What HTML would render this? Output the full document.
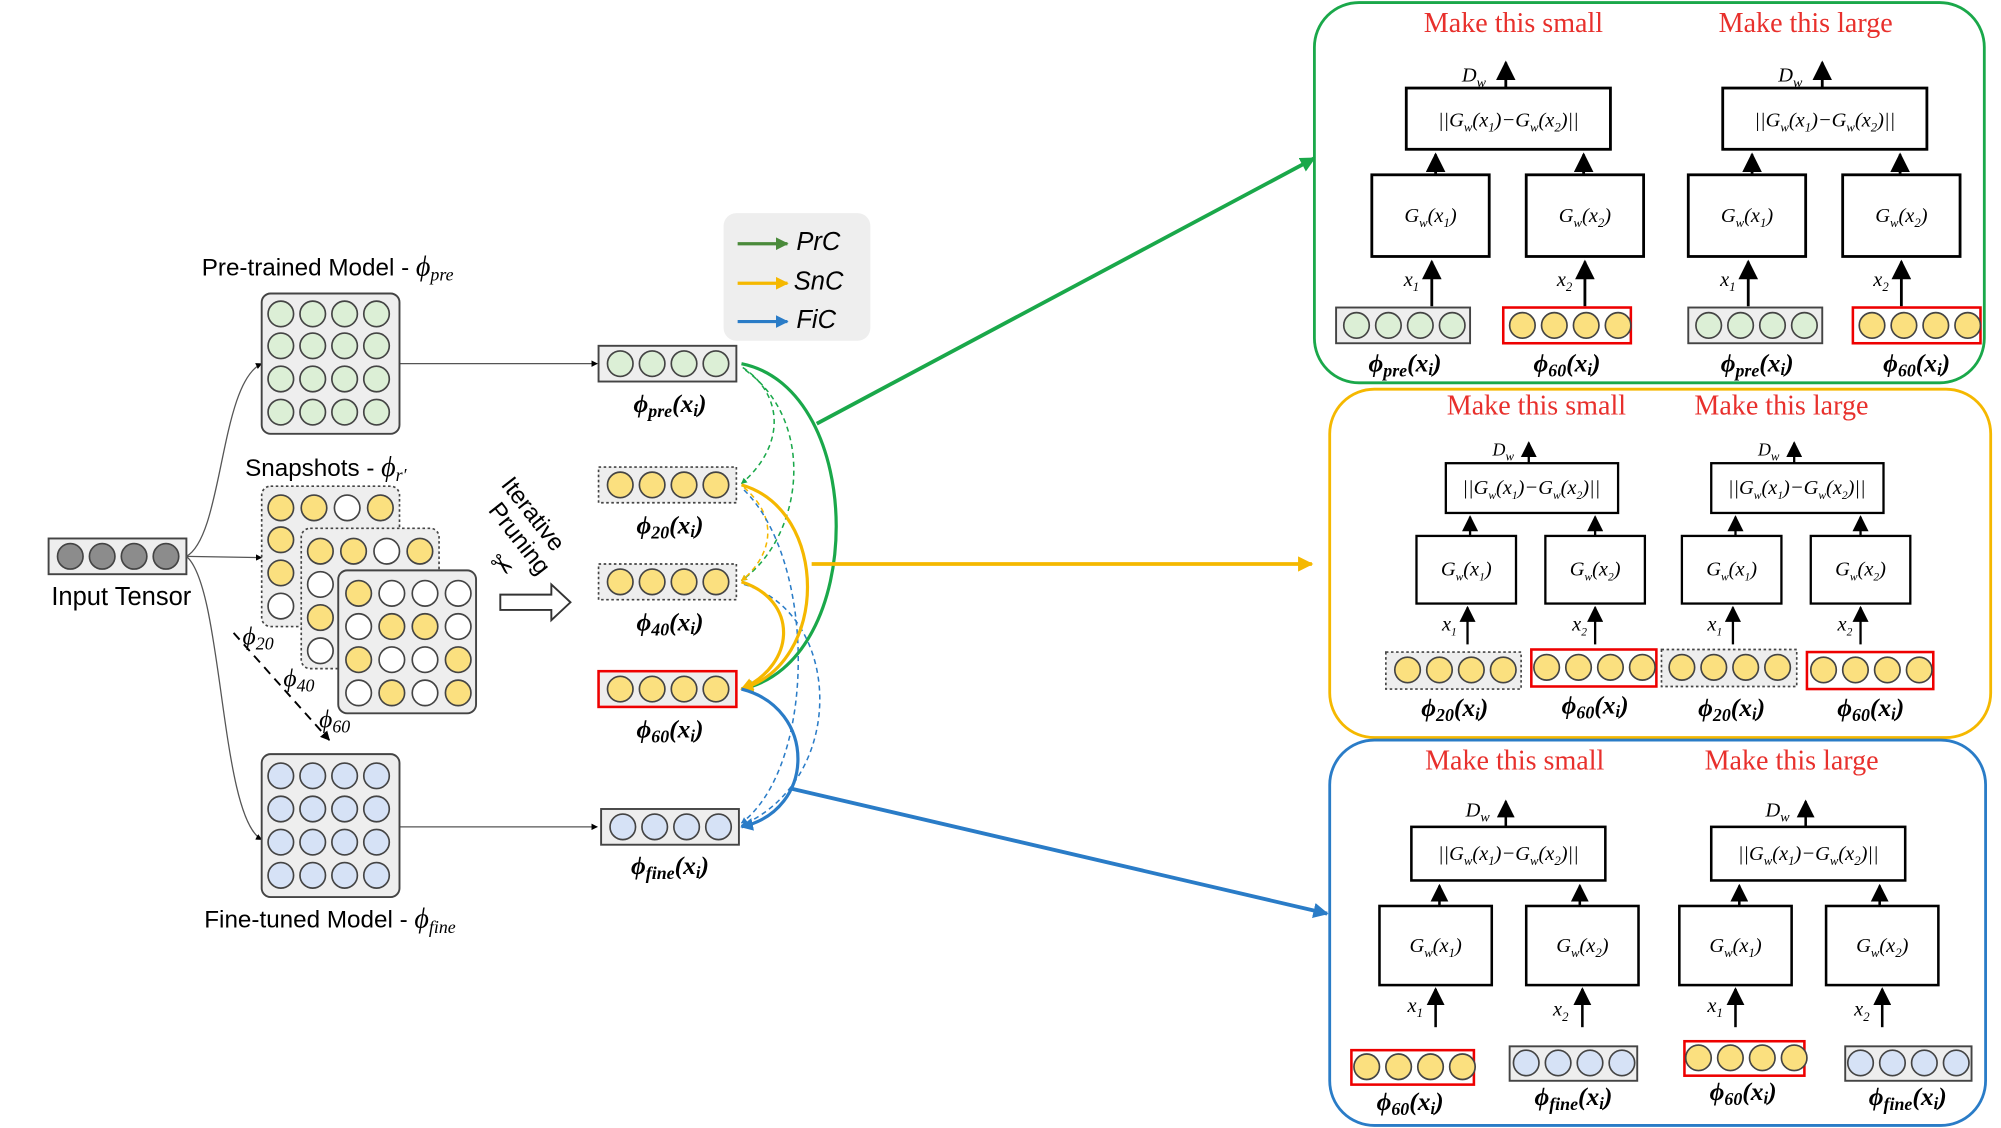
<!DOCTYPE html>
<html><head><meta charset="utf-8"><style>
html,body{margin:0;padding:0;background:#fff;width:2001px;height:1128px;overflow:hidden}
svg{display:block}
.sans{font-family:"Liberation Sans",sans-serif}
.ser{font-family:"Liberation Serif",serif}
.red{fill:#e8302c;font-family:"Liberation Serif",serif;font-size:22px}
.phi{font-family:"Liberation Serif",serif;font-size:20px;font-weight:bold;font-style:italic}
.g{font-family:"Liberation Serif",serif;font-style:italic;font-size:16px}
</style></head><body>
<svg width="2001" height="1128" viewBox="0 0 1568 884" xmlns="http://www.w3.org/2000/svg">
<defs>
<marker id="ak" viewBox="0 0 10 10" refX="9" refY="5" markerWidth="5" markerHeight="5" orient="auto"><path d="M0,0L10,5L0,10z" fill="#000"/></marker>
<marker id="ak2" viewBox="0 0 10 10" refX="9" refY="5" markerWidth="7" markerHeight="7" orient="auto"><path d="M0,0L10,5L0,10z" fill="#000"/></marker>
<marker id="ag" viewBox="0 0 10 10" refX="9" refY="5" markerWidth="4" markerHeight="4" orient="auto"><path d="M0,0L10,5L0,10z" fill="#1aa84a"/></marker>
<marker id="ay" viewBox="0 0 10 10" refX="9" refY="5" markerWidth="4" markerHeight="4" orient="auto"><path d="M0,0L10,5L0,10z" fill="#f5b800"/></marker>
<marker id="ab" viewBox="0 0 10 10" refX="9" refY="5" markerWidth="4" markerHeight="4" orient="auto"><path d="M0,0L10,5L0,10z" fill="#2a7cc7"/></marker>
<marker id="agl" viewBox="0 0 10 10" refX="9" refY="5" markerWidth="4" markerHeight="4" orient="auto"><path d="M0,0L10,5L0,10z" fill="#4a8a3a"/></marker>
<g id="cg" stroke="#444" stroke-width="1.3" fill="#dcefd6"><circle cx="13" cy="14" r="10"/><circle cx="38" cy="14" r="10"/><circle cx="63" cy="14" r="10"/><circle cx="88" cy="14" r="10"/></g>
<g id="cy" stroke="#444" stroke-width="1.3" fill="#fbe07f"><circle cx="13" cy="14" r="10"/><circle cx="38" cy="14" r="10"/><circle cx="63" cy="14" r="10"/><circle cx="88" cy="14" r="10"/></g>
<g id="cb" stroke="#444" stroke-width="1.3" fill="#d6e2f6"><circle cx="13" cy="14" r="10"/><circle cx="38" cy="14" r="10"/><circle cx="63" cy="14" r="10"/><circle cx="88" cy="14" r="10"/></g>
<g id="ck" stroke="#444" stroke-width="1.3" fill="#8c8c8c"><circle cx="13" cy="14" r="10"/><circle cx="38" cy="14" r="10"/><circle cx="63" cy="14" r="10"/><circle cx="88" cy="14" r="10"/></g>
<g id="unitA" fill="none" stroke="#000" stroke-width="2.2">
<rect x="0" y="0" width="160" height="48" fill="#fff"/>
<line x1="78" y1="0" x2="78" y2="-20" marker-end="url(#ak2)"/>
<rect x="-27" y="68" width="92" height="64" fill="#fff"/>
<rect x="94" y="68" width="92" height="64" fill="#fff"/>
<line x1="23" y1="68" x2="23" y2="52" marker-end="url(#ak2)"/>
<line x1="139" y1="68" x2="139" y2="52" marker-end="url(#ak2)"/>
<line x1="20" y1="171" x2="20" y2="136" marker-end="url(#ak2)"/>
<line x1="140" y1="171" x2="140" y2="136" marker-end="url(#ak2)"/>
</g>
<g id="unitB" fill="none" stroke="#000" stroke-width="1.8">
<rect x="0" y="0" width="135" height="39" fill="#fff"/>
<line x1="65" y1="0" x2="65" y2="-16" marker-end="url(#ak2)"/>
<rect x="-23" y="57" width="78" height="53" fill="#fff"/>
<rect x="78" y="57" width="78" height="53" fill="#fff"/>
<line x1="19" y1="57" x2="19" y2="42" marker-end="url(#ak2)"/>
<line x1="117" y1="57" x2="117" y2="42" marker-end="url(#ak2)"/>
<line x1="17" y1="142" x2="17" y2="113" marker-end="url(#ak2)"/>
<line x1="117" y1="142" x2="117" y2="113" marker-end="url(#ak2)"/>
</g>
<g id="unitC" fill="none" stroke="#000" stroke-width="2">
<rect x="0" y="0" width="152" height="42" fill="#fff"/>
<line x1="74" y1="0" x2="74" y2="-20" marker-end="url(#ak2)"/>
<rect x="-25" y="62" width="88" height="62" fill="#fff"/>
<rect x="90" y="62" width="88" height="62" fill="#fff"/>
<line x1="22" y1="62" x2="22" y2="46" marker-end="url(#ak2)"/>
<line x1="132" y1="62" x2="132" y2="46" marker-end="url(#ak2)"/>
<line x1="19" y1="157" x2="19" y2="127" marker-end="url(#ak2)"/>
<line x1="134" y1="157" x2="134" y2="127" marker-end="url(#ak2)"/>
</g>
</defs>

<rect x="38" y="422" width="108" height="28" fill="#eee" stroke="#444" stroke-width="1.5"/>
<use href="#ck" x="42" y="422"/>
<text x="95" y="474" class="sans" font-size="20" text-anchor="middle">Input Tensor</text>

<g fill="none" stroke="#555" stroke-width="1">
<path d="M146,436 C175,420 172,300 205,285" marker-end="url(#ak)"/>
<path d="M146,436 L205,437" marker-end="url(#ak)"/>
<path d="M146,436 C175,460 172,640 205,658" marker-end="url(#ak)"/>
<line x1="313" y1="285" x2="468" y2="285" marker-end="url(#ak)"/>
<line x1="313" y1="648" x2="468" y2="648" marker-end="url(#ak)"/>
</g>
<line x1="183" y1="496" x2="258" y2="580" stroke="#000" stroke-width="1.5" stroke-dasharray="7,5" marker-end="url(#ak)"/>

<text x="158" y="216" class="sans" font-size="19">Pre-trained Model - <tspan class="ser" font-style="italic" font-size="22">ϕ</tspan><tspan class="ser" font-style="italic" font-size="14" dy="4">pre</tspan></text>
<rect x="205" y="230" width="108" height="110" rx="7" fill="#eee" stroke="#444" stroke-width="1.5"/>
<use href="#cg" x="207" y="232"/><use href="#cg" x="207" y="257"/><use href="#cg" x="207" y="283"/><use href="#cg" x="207" y="309"/>

<text x="192" y="373" class="sans" font-size="19">Snapshots - <tspan class="ser" font-style="italic" font-size="22">ϕ</tspan><tspan class="ser" font-style="italic" font-size="14" dy="4">r′</tspan></text>
<g stroke="#444" stroke-width="1.3">
<rect x="205" y="381" width="108" height="110" rx="7" fill="#eee" stroke-dasharray="2,2"/>
<circle cx="220" cy="398" r="10" fill="#fbe07f"/><circle cx="246" cy="398" r="10" fill="#fbe07f"/><circle cx="272" cy="398" r="10" fill="#fff"/><circle cx="298" cy="398" r="10" fill="#fbe07f"/>
<circle cx="220" cy="423" r="10" fill="#fbe07f"/><circle cx="220" cy="449" r="10" fill="#fbe07f"/><circle cx="220" cy="475" r="10" fill="#fff"/>
<rect x="236" y="414" width="108" height="110" rx="7" fill="#eee" stroke-dasharray="2,2"/>
<circle cx="251" cy="432" r="10" fill="#fbe07f"/><circle cx="277" cy="432" r="10" fill="#fbe07f"/><circle cx="303" cy="432" r="10" fill="#fff"/><circle cx="329" cy="432" r="10" fill="#fbe07f"/>
<circle cx="251" cy="458" r="10" fill="#fff"/><circle cx="251" cy="484" r="10" fill="#fbe07f"/><circle cx="251" cy="510" r="10" fill="#fff"/>
<rect x="265" y="447" width="108" height="112" rx="7" fill="#eee" stroke-width="1.5"/>
<circle cx="281" cy="465" r="10" fill="#fbe07f"/><circle cx="307" cy="465" r="10" fill="#fff"/><circle cx="333" cy="465" r="10" fill="#fff"/><circle cx="359" cy="465" r="10" fill="#fff"/>
<circle cx="281" cy="491" r="10" fill="#fff"/><circle cx="307" cy="491" r="10" fill="#fbe07f"/><circle cx="333" cy="491" r="10" fill="#fbe07f"/><circle cx="359" cy="491" r="10" fill="#fff"/>
<circle cx="281" cy="517" r="10" fill="#fbe07f"/><circle cx="307" cy="517" r="10" fill="#fff"/><circle cx="333" cy="517" r="10" fill="#fff"/><circle cx="359" cy="517" r="10" fill="#fbe07f"/>
<circle cx="281" cy="543" r="10" fill="#fff"/><circle cx="307" cy="543" r="10" fill="#fbe07f"/><circle cx="333" cy="543" r="10" fill="#fff"/><circle cx="359" cy="543" r="10" fill="#fbe07f"/>
</g>
<text x="190" y="505" class="ser" font-style="italic" font-size="20">ϕ<tspan font-size="14" dy="4">20</tspan></text>
<text x="222" y="538" class="ser" font-style="italic" font-size="20">ϕ<tspan font-size="14" dy="4">40</tspan></text>
<text x="250" y="570" class="ser" font-style="italic" font-size="20">ϕ<tspan font-size="14" dy="4">60</tspan></text>

<rect x="205" y="591" width="108" height="112" rx="7" fill="#eee" stroke="#444" stroke-width="1.5"/>
<use href="#cb" x="207" y="594"/><use href="#cb" x="207" y="620"/><use href="#cb" x="207" y="646"/><use href="#cb" x="207" y="672"/>
<text x="160" y="727" class="sans" font-size="19">Fine-tuned Model - <tspan class="ser" font-style="italic" font-size="22">ϕ</tspan><tspan class="ser" font-style="italic" font-size="14" dy="4">fine</tspan></text>

<text transform="translate(392,380) rotate(52)" class="sans" font-size="19">Iterative</text>
<text transform="translate(382,400) rotate(52)" class="sans" font-size="19">Pruning</text>
<text x="383" y="452" font-size="22" transform="rotate(40 395 445)" font-family="DejaVu Sans">✂</text>
<path d="M392,466 L432,466 L432,458 L447,472 L432,486 L432,478 L392,478 Z" fill="#fff" stroke="#333" stroke-width="1.5"/>

<rect x="469" y="271" width="108" height="28" fill="#eee" stroke="#444" stroke-width="1.5"/><use href="#cg" x="473" y="271"/>
<rect x="469" y="366" width="108" height="28" fill="#eee" stroke="#444" stroke-width="1.3" stroke-dasharray="2,2"/><use href="#cy" x="473" y="366"/>
<rect x="469" y="442" width="108" height="28" fill="#eee" stroke="#444" stroke-width="1.3" stroke-dasharray="2,2"/><use href="#cy" x="473" y="442"/>
<rect x="469" y="526" width="108" height="28" fill="#eee" stroke="#e00" stroke-width="2"/><use href="#cy" x="473" y="526"/>
<rect x="471" y="634" width="108" height="28" fill="#eee" stroke="#444" stroke-width="1.5"/><use href="#cb" x="475" y="634"/>
<text x="525" y="323" class="phi" text-anchor="middle">ϕ<tspan font-size="14" dy="4">pre</tspan><tspan dy="-4">(x</tspan><tspan font-size="13" dy="3">i</tspan><tspan dy="-3">)</tspan></text>
<text x="525" y="418" class="phi" text-anchor="middle">ϕ<tspan font-size="14" dy="4">20</tspan><tspan dy="-4">(x</tspan><tspan font-size="13" dy="3">i</tspan><tspan dy="-3">)</tspan></text>
<text x="525" y="494" class="phi" text-anchor="middle">ϕ<tspan font-size="14" dy="4">40</tspan><tspan dy="-4">(x</tspan><tspan font-size="13" dy="3">i</tspan><tspan dy="-3">)</tspan></text>
<text x="525" y="578" class="phi" text-anchor="middle">ϕ<tspan font-size="14" dy="4">60</tspan><tspan dy="-4">(x</tspan><tspan font-size="13" dy="3">i</tspan><tspan dy="-3">)</tspan></text>
<text x="525" y="685" class="phi" text-anchor="middle">ϕ<tspan font-size="14" dy="4">fine</tspan><tspan dy="-4">(x</tspan><tspan font-size="13" dy="3">i</tspan><tspan dy="-3">)</tspan></text>

<rect x="567" y="167" width="115" height="100" rx="10" fill="#eee"/>
<line x1="578" y1="191" x2="617" y2="191" stroke="#4a8a3a" stroke-width="2.5" marker-end="url(#agl)"/>
<line x1="578" y1="222" x2="617" y2="222" stroke="#f5b800" stroke-width="2.5" marker-end="url(#ay)"/>
<line x1="578" y1="252" x2="617" y2="252" stroke="#2a7cc7" stroke-width="2.5" marker-end="url(#ab)"/>
<text x="624" y="196" class="sans" font-style="italic" font-size="20">PrC</text>
<text x="622" y="227" class="sans" font-style="italic" font-size="20">SnC</text>
<text x="624" y="257" class="sans" font-style="italic" font-size="20">FiC</text>

<g fill="none" stroke-width="1.2" stroke-dasharray="4,3">
<path d="M582,288 C615,310 615,350 581,379" stroke="#1aa84a" marker-end="url(#ag)"/>
<path d="M584,290 C640,330 630,420 581,455" stroke="#1aa84a" marker-end="url(#ag)"/>
<path d="M583,382 C615,410 600,440 581,455" stroke="#f5b800" marker-end="url(#ay)"/>
<path d="M583,384 C640,440 640,600 581,645" stroke="#2a7cc7" marker-end="url(#ab)"/>
<path d="M583,458 C660,480 665,610 581,647" stroke="#2a7cc7" marker-end="url(#ab)"/>
</g>
<g fill="none" stroke-width="2.5">
<path d="M581,285 C680,305 680,520 581,540" stroke="#1aa84a" marker-end="url(#ag)"/>
<path d="M581,380 C650,400 650,520 581,540" stroke="#f5b800" marker-end="url(#ay)"/>
<path d="M581,456 C625,470 625,520 581,540" stroke="#f5b800" marker-end="url(#ay)"/>
<path d="M581,540 C640,555 640,635 581,648" stroke="#2a7cc7" marker-end="url(#ab)"/>
<line x1="640" y1="332" x2="1030" y2="124" stroke="#1aa84a" stroke-width="3" marker-end="url(#ag)"/>
<line x1="636" y1="442" x2="1028" y2="442" stroke="#f5b800" stroke-width="3" marker-end="url(#ay)"/>
<line x1="620" y1="618" x2="1040" y2="716" stroke="#2a7cc7" stroke-width="3" marker-end="url(#ab)"/>
</g>

<rect x="1030" y="2" width="525" height="298" rx="35" fill="none" stroke="#1aa84a" stroke-width="2.2"/>
<text x="1186" y="25" class="red" text-anchor="middle">Make this small</text>
<text x="1415" y="25" class="red" text-anchor="middle">Make this large</text>
<use href="#unitA" x="1102" y="69"/><use href="#unitA" x="1350" y="69"/>
<rect x="1047" y="241" width="105" height="28" fill="#eee" stroke="#444" stroke-width="1.5"/><use href="#cg" x="1050" y="241"/>
<rect x="1178" y="241" width="100" height="28" fill="#fff" stroke="#e00" stroke-width="2"/><use href="#cy" x="1180" y="241"/>
<rect x="1323" y="241" width="105" height="28" fill="#eee" stroke="#444" stroke-width="1.5"/><use href="#cg" x="1326" y="241"/>
<rect x="1452" y="241" width="100" height="28" fill="#fff" stroke="#e00" stroke-width="2"/><use href="#cy" x="1454" y="241"/>
<g class="g">
<text x="1155" y="64" text-anchor="middle">D<tspan font-size="11" dy="4">w</tspan></text>
<text x="1403" y="64" text-anchor="middle">D<tspan font-size="11" dy="4">w</tspan></text>
<text x="1182" y="99" text-anchor="middle">||G<tspan font-size="10" dy="4">w</tspan><tspan dy="-4">(x</tspan><tspan font-size="10" dy="4">1</tspan><tspan dy="-4">)−G</tspan><tspan font-size="10" dy="4">w</tspan><tspan dy="-4">(x</tspan><tspan font-size="10" dy="4">2</tspan><tspan dy="-4">)||</tspan></text>
<text x="1430" y="99" text-anchor="middle">||G<tspan font-size="10" dy="4">w</tspan><tspan dy="-4">(x</tspan><tspan font-size="10" dy="4">1</tspan><tspan dy="-4">)−G</tspan><tspan font-size="10" dy="4">w</tspan><tspan dy="-4">(x</tspan><tspan font-size="10" dy="4">2</tspan><tspan dy="-4">)||</tspan></text>
<text x="1121" y="174" text-anchor="middle">G<tspan font-size="10" dy="4">w</tspan><tspan dy="-4">(x</tspan><tspan font-size="10" dy="4">1</tspan><tspan dy="-4">)</tspan></text>
<text x="1242" y="174" text-anchor="middle">G<tspan font-size="10" dy="4">w</tspan><tspan dy="-4">(x</tspan><tspan font-size="10" dy="4">2</tspan><tspan dy="-4">)</tspan></text>
<text x="1369" y="174" text-anchor="middle">G<tspan font-size="10" dy="4">w</tspan><tspan dy="-4">(x</tspan><tspan font-size="10" dy="4">1</tspan><tspan dy="-4">)</tspan></text>
<text x="1490" y="174" text-anchor="middle">G<tspan font-size="10" dy="4">w</tspan><tspan dy="-4">(x</tspan><tspan font-size="10" dy="4">2</tspan><tspan dy="-4">)</tspan></text>
<text x="1100" y="224">x<tspan font-size="10" dy="4">1</tspan></text>
<text x="1220" y="224">x<tspan font-size="10" dy="4">2</tspan></text>
<text x="1348" y="224">x<tspan font-size="10" dy="4">1</tspan></text>
<text x="1468" y="224">x<tspan font-size="10" dy="4">2</tspan></text>
</g>
<text x="1101" y="291" class="phi" text-anchor="middle">ϕ<tspan font-size="14" dy="4">pre</tspan><tspan dy="-4">(x</tspan><tspan font-size="13" dy="3">i</tspan><tspan dy="-3">)</tspan></text>
<text x="1228" y="291" class="phi" text-anchor="middle">ϕ<tspan font-size="14" dy="4">60</tspan><tspan dy="-4">(x</tspan><tspan font-size="13" dy="3">i</tspan><tspan dy="-3">)</tspan></text>
<text x="1377" y="291" class="phi" text-anchor="middle">ϕ<tspan font-size="14" dy="4">pre</tspan><tspan dy="-4">(x</tspan><tspan font-size="13" dy="3">i</tspan><tspan dy="-3">)</tspan></text>
<text x="1502" y="291" class="phi" text-anchor="middle">ϕ<tspan font-size="14" dy="4">60</tspan><tspan dy="-4">(x</tspan><tspan font-size="13" dy="3">i</tspan><tspan dy="-3">)</tspan></text>

<rect x="1042" y="305" width="518" height="273" rx="35" fill="none" stroke="#f5b800" stroke-width="2.2"/>
<text x="1204" y="325" class="red" text-anchor="middle" font-size="19">Make this small</text>
<text x="1396" y="325" class="red" text-anchor="middle" font-size="19">Make this large</text>
<use href="#unitB" x="1133" y="363"/><use href="#unitB" x="1341" y="363"/>
<rect x="1086" y="511" width="106" height="29" fill="#eee" stroke="#444" stroke-width="1.3" stroke-dasharray="2,2"/><use href="#cy" x="1090" y="511"/>
<rect x="1200" y="509" width="98" height="29" fill="#fff" stroke="#e00" stroke-width="2"/><use href="#cy" x="1199" y="509"/>
<rect x="1302" y="509" width="106" height="29" fill="#eee" stroke="#444" stroke-width="1.3" stroke-dasharray="2,2"/><use href="#cy" x="1305" y="509"/>
<rect x="1416" y="511" width="99" height="29" fill="#fff" stroke="#e00" stroke-width="2"/><use href="#cy" x="1416" y="511"/>
<g class="g" font-size="13">
<text x="1178" y="357" text-anchor="middle" font-size="14">D<tspan font-size="10" dy="4">w</tspan></text>
<text x="1386" y="357" text-anchor="middle" font-size="14">D<tspan font-size="10" dy="4">w</tspan></text>
<text x="1200" y="387" text-anchor="middle">||G<tspan font-size="9" dy="4">w</tspan><tspan dy="-4">(x</tspan><tspan font-size="9" dy="4">1</tspan><tspan dy="-4">)−G</tspan><tspan font-size="9" dy="4">w</tspan><tspan dy="-4">(x</tspan><tspan font-size="9" dy="4">2</tspan><tspan dy="-4">)||</tspan></text>
<text x="1408" y="387" text-anchor="middle">||G<tspan font-size="9" dy="4">w</tspan><tspan dy="-4">(x</tspan><tspan font-size="9" dy="4">1</tspan><tspan dy="-4">)−G</tspan><tspan font-size="9" dy="4">w</tspan><tspan dy="-4">(x</tspan><tspan font-size="9" dy="4">2</tspan><tspan dy="-4">)||</tspan></text>
<text x="1149" y="451" text-anchor="middle">G<tspan font-size="9" dy="4">w</tspan><tspan dy="-4">(x</tspan><tspan font-size="9" dy="4">1</tspan><tspan dy="-4">)</tspan></text>
<text x="1250" y="451" text-anchor="middle">G<tspan font-size="9" dy="4">w</tspan><tspan dy="-4">(x</tspan><tspan font-size="9" dy="4">2</tspan><tspan dy="-4">)</tspan></text>
<text x="1357" y="451" text-anchor="middle">G<tspan font-size="9" dy="4">w</tspan><tspan dy="-4">(x</tspan><tspan font-size="9" dy="4">1</tspan><tspan dy="-4">)</tspan></text>
<text x="1458" y="451" text-anchor="middle">G<tspan font-size="9" dy="4">w</tspan><tspan dy="-4">(x</tspan><tspan font-size="9" dy="4">2</tspan><tspan dy="-4">)</tspan></text>
<text x="1130" y="494">x<tspan font-size="9" dy="4">1</tspan></text>
<text x="1232" y="494">x<tspan font-size="9" dy="4">2</tspan></text>
<text x="1338" y="494">x<tspan font-size="9" dy="4">1</tspan></text>
<text x="1440" y="494">x<tspan font-size="9" dy="4">2</tspan></text>
</g>
<text x="1140" y="561" class="phi" text-anchor="middle">ϕ<tspan font-size="14" dy="4">20</tspan><tspan dy="-4">(x</tspan><tspan font-size="13" dy="3">i</tspan><tspan dy="-3">)</tspan></text>
<text x="1250" y="559" class="phi" text-anchor="middle">ϕ<tspan font-size="14" dy="4">60</tspan><tspan dy="-4">(x</tspan><tspan font-size="13" dy="3">i</tspan><tspan dy="-3">)</tspan></text>
<text x="1357" y="561" class="phi" text-anchor="middle">ϕ<tspan font-size="14" dy="4">20</tspan><tspan dy="-4">(x</tspan><tspan font-size="13" dy="3">i</tspan><tspan dy="-3">)</tspan></text>
<text x="1466" y="561" class="phi" text-anchor="middle">ϕ<tspan font-size="14" dy="4">60</tspan><tspan dy="-4">(x</tspan><tspan font-size="13" dy="3">i</tspan><tspan dy="-3">)</tspan></text>

<rect x="1042" y="580" width="514" height="302" rx="35" fill="none" stroke="#2a7cc7" stroke-width="2.2"/>
<text x="1187" y="603" class="red" text-anchor="middle">Make this small</text>
<text x="1404" y="603" class="red" text-anchor="middle">Make this large</text>
<use href="#unitC" x="1106" y="648"/><use href="#unitC" x="1341" y="648"/>
<rect x="1059" y="823" width="96" height="27" fill="#fff" stroke="#e00" stroke-width="2"/><use href="#cy" x="1058" y="822"/>
<rect x="1183" y="820" width="100" height="27" fill="#eee" stroke="#444" stroke-width="1.5"/><use href="#cb" x="1183" y="819"/>
<rect x="1320" y="816" width="94" height="27" fill="#fff" stroke="#e00" stroke-width="2"/><use href="#cy" x="1318" y="815"/>
<rect x="1446" y="820" width="99" height="27" fill="#eee" stroke="#444" stroke-width="1.5"/><use href="#cb" x="1445" y="819"/>
<g class="g">
<text x="1158" y="640" text-anchor="middle">D<tspan font-size="11" dy="4">w</tspan></text>
<text x="1393" y="640" text-anchor="middle">D<tspan font-size="11" dy="4">w</tspan></text>
<text x="1182" y="674" text-anchor="middle">||G<tspan font-size="10" dy="4">w</tspan><tspan dy="-4">(x</tspan><tspan font-size="10" dy="4">1</tspan><tspan dy="-4">)−G</tspan><tspan font-size="10" dy="4">w</tspan><tspan dy="-4">(x</tspan><tspan font-size="10" dy="4">2</tspan><tspan dy="-4">)||</tspan></text>
<text x="1417" y="674" text-anchor="middle">||G<tspan font-size="10" dy="4">w</tspan><tspan dy="-4">(x</tspan><tspan font-size="10" dy="4">1</tspan><tspan dy="-4">)−G</tspan><tspan font-size="10" dy="4">w</tspan><tspan dy="-4">(x</tspan><tspan font-size="10" dy="4">2</tspan><tspan dy="-4">)||</tspan></text>
<text x="1125" y="746" text-anchor="middle">G<tspan font-size="10" dy="4">w</tspan><tspan dy="-4">(x</tspan><tspan font-size="10" dy="4">1</tspan><tspan dy="-4">)</tspan></text>
<text x="1240" y="746" text-anchor="middle">G<tspan font-size="10" dy="4">w</tspan><tspan dy="-4">(x</tspan><tspan font-size="10" dy="4">2</tspan><tspan dy="-4">)</tspan></text>
<text x="1360" y="746" text-anchor="middle">G<tspan font-size="10" dy="4">w</tspan><tspan dy="-4">(x</tspan><tspan font-size="10" dy="4">1</tspan><tspan dy="-4">)</tspan></text>
<text x="1475" y="746" text-anchor="middle">G<tspan font-size="10" dy="4">w</tspan><tspan dy="-4">(x</tspan><tspan font-size="10" dy="4">2</tspan><tspan dy="-4">)</tspan></text>
<text x="1103" y="793">x<tspan font-size="10" dy="4">1</tspan></text>
<text x="1217" y="796">x<tspan font-size="10" dy="4">2</tspan></text>
<text x="1338" y="793">x<tspan font-size="10" dy="4">1</tspan></text>
<text x="1453" y="796">x<tspan font-size="10" dy="4">2</tspan></text>
</g>
<text x="1105" y="870" class="phi" text-anchor="middle">ϕ<tspan font-size="14" dy="4">60</tspan><tspan dy="-4">(x</tspan><tspan font-size="13" dy="3">i</tspan><tspan dy="-3">)</tspan></text>
<text x="1233" y="866" class="phi" text-anchor="middle">ϕ<tspan font-size="14" dy="4">fine</tspan><tspan dy="-4">(x</tspan><tspan font-size="13" dy="3">i</tspan><tspan dy="-3">)</tspan></text>
<text x="1366" y="862" class="phi" text-anchor="middle">ϕ<tspan font-size="14" dy="4">60</tspan><tspan dy="-4">(x</tspan><tspan font-size="13" dy="3">i</tspan><tspan dy="-3">)</tspan></text>
<text x="1495" y="866" class="phi" text-anchor="middle">ϕ<tspan font-size="14" dy="4">fine</tspan><tspan dy="-4">(x</tspan><tspan font-size="13" dy="3">i</tspan><tspan dy="-3">)</tspan></text>
</svg>
</body></html>
